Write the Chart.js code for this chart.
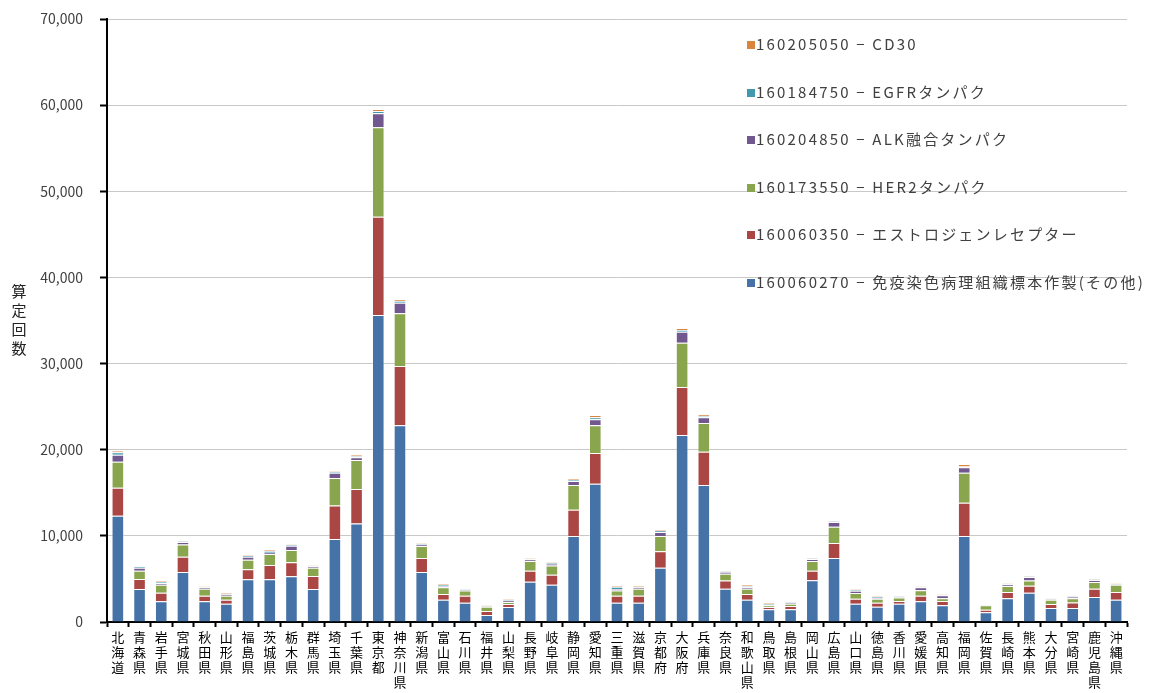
<!DOCTYPE html>
<html lang="ja">
<head>
<meta charset="utf-8">
<script src="https://cdn.jsdelivr.net/npm/chart.js@4.4.1/dist/chart.umd.min.js"></script>
<style>
  html, body { margin: 0; padding: 0; background: #fff; }
  #wrap { position: relative; width: 1154px; height: 693px; }
  #yTitle { position: absolute; left: 10px; top: 281px; width: 18px; text-align: center;
            font: 15px "Noto Sans CJK JP", sans-serif; line-height: 19px; color: #222; }
  #legend { position: absolute; left: 747px; top: 0; }
  .lg { position: absolute; left: 0; white-space: nowrap; font: 15px "Noto Sans CJK JP", sans-serif;
        letter-spacing: 2.2px; color: #404040; line-height: 20px; }
  .lg i { display: inline-block; width: 8px; height: 8px; margin-right: 1px; vertical-align: 1px; }
</style>
</head>
<body>
<div id="wrap">
  <canvas id="chart" width="1154" height="693"></canvas>
  <div id="yTitle">算<br>定<br>回<br>数</div>
  <div id="legend"></div>
</div>
<script>
const prefectures = ['北海道','青森県','岩手県','宮城県','秋田県','山形県','福島県','茨城県','栃木県','群馬県',
  '埼玉県','千葉県','東京都','神奈川県','新潟県','富山県','石川県','福井県','山梨県','長野県',
  '岐阜県','静岡県','愛知県','三重県','滋賀県','京都府','大阪府','兵庫県','奈良県','和歌山県',
  '鳥取県','島根県','岡山県','広島県','山口県','徳島県','香川県','愛媛県','高知県','福岡県',
  '佐賀県','長崎県','熊本県','大分県','宮崎県','鹿児島県','沖縄県'];

const seriesNames = [
  '160060270 − 免疫染色病理組織標本作製(その他)',
  '160060350 − エストロジェンレセプター',
  '160173550 − HER2タンパク',
  '160204850 − ALK融合タンパク',
  '160184750 − EGFRタンパク',
  '160205050 − CD30'
];
const seriesColors = ['#4572A7', '#AA4643', '#89A54E', '#71588F', '#4198AF', '#DB843D'];

const immuno = [12340,3830,2400,5800,2400,2130,4950,4950,5300,3830,
  9640,11420,35640,22830,5800,2590,2240,810,1740,4680,
  4330,9980,16060,2240,2240,6310,21710,15900,3850,2590,
  1470,1470,4840,7430,2130,1780,2130,2400,1940,9980,
  1120,2750,3400,1630,1630,2900,2590];
const estrogen = [3250,1160,1000,1780,660,460,1160,1670,1630,1510,
  3870,4020,11410,6900,1630,660,810,470,350,1280,
  1160,3060,3560,810,810,1900,5570,3870,970,660,
  270,390,1120,1740,580,460,310,660,500,3870,
  310,730,810,460,620,970,890];
const her2 = [3020,970,930,1430,810,460,1120,1280,1430,970,
  3210,3370,10380,6110,1390,770,620,500,230,1120,
  1080,2860,3210,620,810,1780,5150,3330,780,620,
  190,270,1120,1900,660,460,390,620,310,3480,
  500,700,620,500,500,770,850];
const alk = [810,350,190,270,150,150,350,150,500,150,
  620,310,1620,1230,190,150,80,60,190,190,
  190,460,700,150,150,460,1270,660,230,150,
  80,110,230,540,270,80,110,350,350,620,
  60,190,390,60,190,230,60];
const egfr = [280,150,120,80,60,60,150,190,80,60,
  80,120,270,200,80,120,40,60,110,80,
  120,110,250,270,60,150,200,150,60,120,
  120,40,60,80,100,150,40,80,80,100,
  30,60,60,30,60,60,40];
const cd30 = [170,80,100,100,80,80,120,110,70,60,
  70,150,230,190,70,100,40,40,80,70,
  80,170,250,100,80,120,200,160,60,200,
  80,80,60,80,90,80,70,60,70,290,
  30,60,60,30,60,60,60];

const yTicks = [0, 10000, 20000, 30000, 40000, 50000, 60000, 70000];

const seriesData = [immuno, estrogen, her2, alk, egfr, cd30];
const FONT = '"Noto Sans CJK JP", sans-serif';

const datasets = seriesData.map((d, i) => ({
  label: seriesNames[i],
  data: d,
  backgroundColor: seriesColors[i],
  borderColor: 'rgba(255,255,255,0.35)',
  borderWidth: 1,
  barPercentage: 0.58,
  categoryPercentage: 1.0
}));

new Chart(document.getElementById('chart'), {
  type: 'bar',
  data: {
    labels: prefectures.map(p => p.split('')),
    datasets
  },
  options: {
    responsive: false,
    animation: false,
    layout: { padding: { top: 19, right: 27, left: 0, bottom: 0 } },
    plugins: { legend: { display: false }, tooltip: { enabled: false } },
    scales: {
      x: {
        stacked: true,
        grid: { drawOnChartArea: false, drawTicks: true, tickLength: 5, tickColor: '#000', tickWidth: 2, offset: true },
        border: { color: '#000', width: 2 },
        ticks: { color: '#000', font: { family: FONT, size: 13, lineHeight: 1.15 }, padding: 3,
                 maxRotation: 0, minRotation: 0, autoSkip: false },
        afterFit: s => { s.height = 71; s.paddingLeft = 0; s.paddingRight = 0; }
      },
      y: {
        stacked: true,
        min: 0, max: 70000,
        afterBuildTicks: s => { s.ticks = yTicks.map(v => ({ value: v })); },
        grid: { color: '#c8c8c8', lineWidth: 1, drawTicks: true, tickLength: 7, tickColor: '#000', tickWidth: 2 },
        border: { color: '#000', width: 2 },
        ticks: { color: '#404040', font: { family: FONT, size: 14 }, padding: 17,
                 callback: v => v.toLocaleString('en-US') },
        afterFit: s => { s.width = 107; s.paddingTop = 0; s.paddingBottom = 0; }
      }
    }
  }
});

// legend: inside the plot area, top item = last series
const legendEl = document.getElementById('legend');
seriesNames.slice().reverse().forEach((name, i) => {
  const idx = seriesNames.length - 1 - i;
  const row = document.createElement('div');
  row.className = 'lg';
  row.style.top = (34 + i * 47.5) + 'px';
  const sw = document.createElement('i');
  sw.style.background = seriesColors[idx];
  row.appendChild(sw);
  row.appendChild(document.createTextNode(name));
  legendEl.appendChild(row);
});
</script>
</body>
</html>
